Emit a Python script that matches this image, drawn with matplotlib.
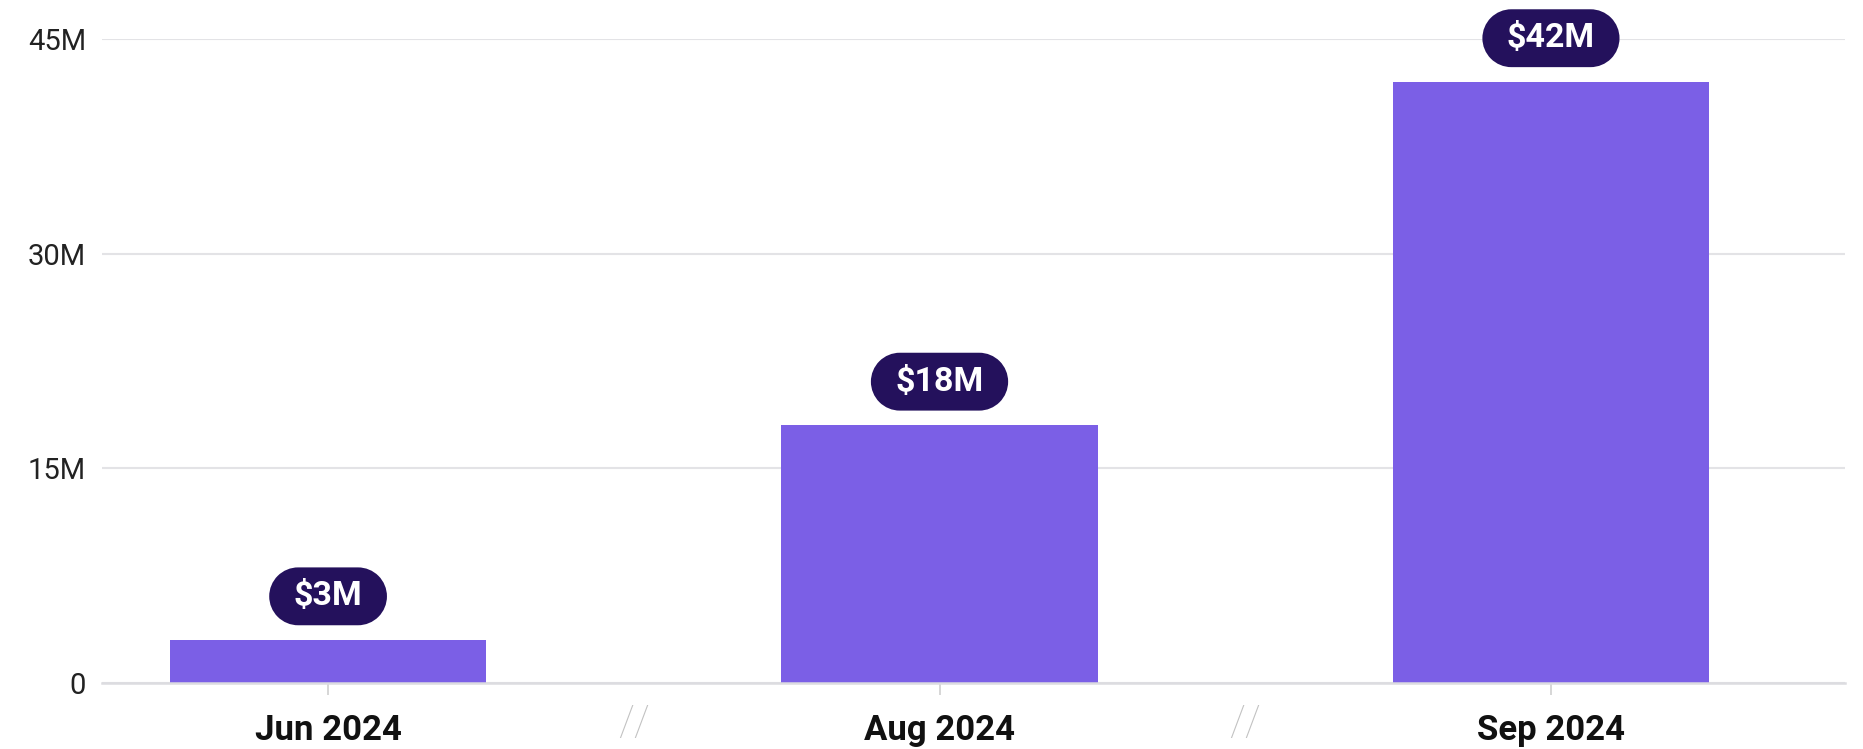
import matplotlib

matplotlib.use("Agg")
import matplotlib.pyplot as plt
from matplotlib.path import Path
from matplotlib.transforms import Affine2D

plt.rcParams["font.family"] = ["Roboto", "DejaVu Sans"]

MONTHS = ["Jun 2024", "Aug 2024", "Sep 2024"]
VALUES_M = [3, 18, 42]
Y_TICKS = [0, 15, 30, 45]
Y_TICK_LABELS = ["0", "15M", "30M", "45M"]

BAR_COLOR = "#7b5fe6"
BADGE_COLOR = "#24115c"
GRID_COLOR = "#e3e3e6"


def pill_box(x0, y0, width, height, mutation_size):
    # capsule shaped badge, wider padding left/right than top/bottom
    pad_x = 0.72 * mutation_size
    pad_y = 0.38 * mutation_size
    x0, y0 = x0 - pad_x, y0 - pad_y
    width, height = width + 2 * pad_x, height + 2 * pad_y
    r = height / 2
    cy = y0 + r
    right = Path.arc(-90, 90).transformed(Affine2D().scale(r).translate(x0 + width - r, cy))
    left = Path.arc(90, 270).transformed(Affine2D().scale(r).translate(x0 + r, cy))
    verts = list(right.vertices) + list(left.vertices) + [right.vertices[0]]
    codes = list(right.codes) + [Path.LINETO] + list(left.codes[1:]) + [Path.CLOSEPOLY]
    return Path(verts, codes)


def main() -> None:
    fig = plt.figure(figsize=(18.63, 7.49), dpi=100)
    ax = fig.add_axes([0.0548, 0.0881, 0.9355, 0.8598])

    positions = list(range(len(MONTHS)))
    ax.bar(positions, VALUES_M, width=0.517, color=BAR_COLOR, zorder=3)

    for pos, value in zip(positions, VALUES_M):
        ax.annotate(
            f"\\${value}M",
            xy=(pos, value),
            xytext=(0, 31.5),
            textcoords="offset points",
            ha="center",
            va="center",
            fontsize=24.5,
            fontweight="bold",
            color="white",
            zorder=5,
            annotation_clip=False,
            bbox=dict(boxstyle=pill_box, fc=BADGE_COLOR, ec="none"),
        )

    # break marks between the non-consecutive months
    for left, right in zip(positions[:-1], positions[1:]):
        ax.text(
            (left + right) / 2,
            -0.063,
            "//",
            transform=ax.get_xaxis_transform(),
            ha="center",
            va="center",
            fontsize=30,
            fontweight="light",
            color="#c2c2c2",
            clip_on=False,
        )

    ax.set_xlim(-0.3696, 2.4808)
    ax.set_ylim(0, 45)
    ax.set_yticks(Y_TICKS)
    ax.set_yticklabels(Y_TICK_LABELS)
    ax.set_xticks(positions)
    ax.set_xticklabels(MONTHS, fontweight="bold")

    ax.grid(axis="y", color=GRID_COLOR, linewidth=1.5, zorder=0)
    ax.set_axisbelow(True)
    for side in ["top", "right", "left"]:
        ax.spines[side].set_visible(False)
    ax.spines["bottom"].set_color("#dcdce0")
    ax.spines["bottom"].set_linewidth(1.8)
    ax.spines["bottom"].set_zorder(4)

    ax.tick_params(axis="y", length=0, pad=11.5, labelsize=21, labelcolor="#222222")
    ax.tick_params(axis="x", length=8.6, width=1.2, color="#d0d0d0", pad=14, labelsize=25, labelcolor="#111111")

    fig.savefig("out.png", dpi=100)
    plt.close(fig)


if __name__ == "__main__":
    main()
